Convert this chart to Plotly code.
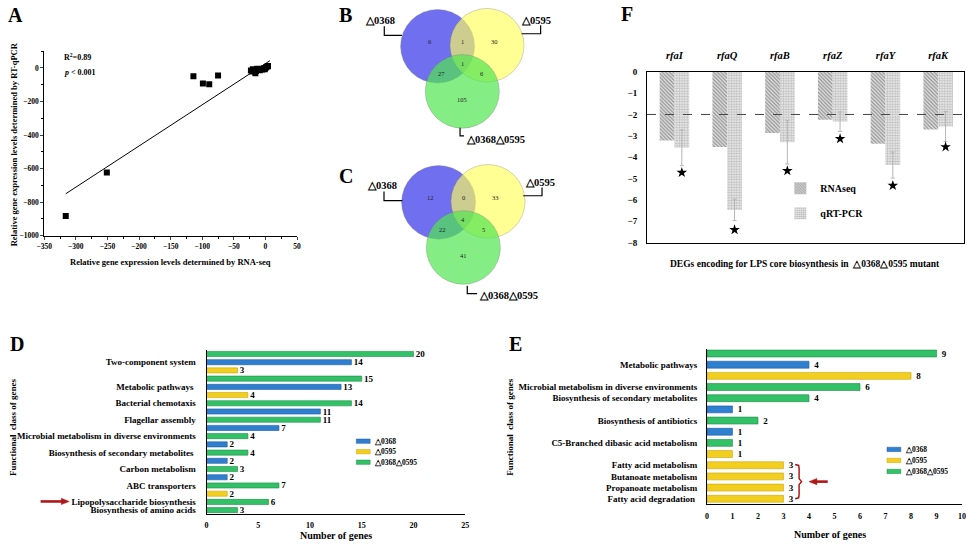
import plotly.graph_objects as go

W, H = 971, 547
FONT = "Liberation Serif"


def px(x):
    return x / W


def py(y):
    return 1 - y / H


# ---------------- DATA ----------------
# Panel A: RNA-seq vs RT-qPCR
a_rnaseq = [-316, -251, -114, -99, -89, -75, -23, -21, -20, -18, -16, -15, -13,
            -11, -9, -7, -5, -3, -1, 1, 3, 4]
a_qpcr = [-883, -623, -50, -93, -97, -45, -15, -22, -8, -12, -32, -18, -5,
          -10, -14, -6, -10, -2, -8, 2, 8, 12]
a_fit_x = [-316, 7]
a_fit_y = [-750, 43]
a_r2_text = "R<sup>2</sup>=0.89"
a_p_text = "<i>p</i> &lt; 0.001"

# Panels B, C: Venn counts
# order: only 0368, 0368&0595, only 0595, all three, 0368&double, 0595&double, only double
venn_sets = ["△0368", "△0595", "△0368△0595"]
venn_b = [6, 1, 30, 1, 27, 6, 105]
venn_c = [12, 0, 33, 4, 22, 5, 41]

# Panel F
f_genes = ["rfaI", "rfaQ", "rfaB", "rfaZ", "rfaY", "rfaK"]
f_rnaseq = [-3.22, -3.52, -2.87, -2.25, -3.37, -2.71]
f_qpcr = [-3.56, -6.47, -3.30, -2.34, -4.37, -2.56]
f_qpcr_err = [0.84, 0.50, 1.02, 0.46, 0.61, 0.70]
f_star = [-4.72, -7.40, -4.64, -3.14, -5.33, -3.52]
f_threshold = -2
f_title = "DEGs encoding for LPS core biosynthesis in  △0368△0595 mutant"

S1, S2, S3 = "△0368", "△0595", "△0368△0595"
series_names = [S1, S2, S3]
series_colors = {S1: "#2f7fd0", S2: "#f2cf1f", S3: "#33c168"}
series_lines = {S1: "#1d5a9c", S2: "#c9a50c", S3: "#1f8a47"}

# Panel D
d_labels = ["", "Two-component system", "", "", "Metabolic pathways ", "",
            "Bacterial chemotaxis", "", "Flagellar assembly", "",
            "Microbial metabolism in diverse environments", "",
            "Biosynthesis of secondary metabolites ", "", "Carbon metabolism", "",
            "ABC transporters", "", "Lipopolysaccharide biosynthesis",
            "Biosynthesis of amino acids"]
d_series = [S3, S1, S2, S3, S1, S2, S3, S1, S3, S1, S3, S1, S3, S1, S3, S1, S3, S2, S3, S3]
d_values = [20, 14, 3, 15, 13, 4, 14, 11, 11, 7, 4, 2, 4, 2, 3, 2, 7, 2, 6, 3]

# Panel E
e_labels = ["", "Metabolic pathways", "", "Microbial metabolism in diverse environments",
            "Biosynthesis of secondary metabolites", "", "Biosynthesis of antibiotics", "",
            "C5-Branched dibasic acid metabolism", "", "Fatty acid metabolism",
            "Butanoate metabolism", "Propanoate metabolism", "Fatty acid degradation "]
e_series = [S3, S1, S2, S3, S3, S1, S3, S1, S3, S2, S2, S2, S2, S2]
e_values = [9, 4, 8, 6, 4, 1, 2, 1, 1, 1, 3, 3, 3, 3]

# ---------------- FIGURE ----------------
fig = go.Figure()
shapes = []
annotations = []


def add_text(x, y, text, size, xanchor="center", yanchor="middle", weight="bold",
             angle=0, color="black"):
    annotations.append(dict(x=px(x), y=py(y), xref="paper", yref="paper", text=text,
                            showarrow=False, xanchor=xanchor, yanchor=yanchor,
                            textangle=angle,
                            font=dict(family=FONT, size=size, weight=weight, color=color)))


def add_path(points, color="black", width=1, closed=False, fill=None):
    d = "M " + " L ".join(f"{px(x):.5f},{py(y):.5f}" for x, y in points)
    if closed:
        d += " Z"
    shp = dict(type="path", xref="paper", yref="paper", path=d,
               line=dict(color=color, width=width))
    if fill:
        shp["fillcolor"] = fill
    shapes.append(shp)


def add_arrow(x_tail, x_head, y, color="#b01818"):
    sgn = 1 if x_head > x_tail else -1
    add_path([(x_tail, y), (x_head - sgn * 6, y)], color=color, width=2.6)
    add_path([(x_head - sgn * 8, y - 3.2), (x_head, y), (x_head - sgn * 8, y + 3.2)],
             color=color, width=0.5, closed=True, fill=color)


# ---- Panel F (x / y) ----
fx = list(range(len(f_genes)))
BW = 0.28
fig.add_trace(go.Bar(
    x=fx, y=f_rnaseq, width=BW, offset=-BW, name="RNAseq", xaxis="x", yaxis="y",
    legend="legend", legendgroup="rna",
    marker=dict(color="white", line=dict(width=0),
                pattern=dict(shape="\\", fgcolor="#3f3f3f", bgcolor="#e6e6e6",
                             size=2.6, solidity=0.5))))
fig.add_trace(go.Bar(
    x=fx, y=f_qpcr, width=BW, offset=0, name="qRT-PCR", xaxis="x", yaxis="y",
    legend="legend", legendgroup="qpcr",
    marker=dict(color="white", line=dict(width=0),
                pattern=dict(shape=".", fgcolor="#8a8a8a", bgcolor="#f2f2f2",
                             size=2.6, solidity=0.55)),
    error_y=dict(type="data", array=f_qpcr_err, color="#b5b5b5", thickness=1, width=2)))
fig.add_trace(go.Scatter(
    x=[i + BW / 2 for i in fx], y=f_star, mode="markers", xaxis="x", yaxis="y",
    showlegend=False, marker=dict(symbol="star", size=8, color="black")))
shapes.append(dict(type="line", xref="x domain", yref="y", x0=0, x1=1,
                   y0=f_threshold, y1=f_threshold,
                   line=dict(color="#444444", width=1, dash="dash")))

# ---- Panel A (x2 / y2) ----
fig.add_trace(go.Scatter(x=a_fit_x, y=a_fit_y, mode="lines", xaxis="x2", yaxis="y2",
                         showlegend=False, line=dict(color="black", width=1)))
fig.add_trace(go.Scatter(x=a_rnaseq, y=a_qpcr, mode="markers", xaxis="x2", yaxis="y2",
                         showlegend=False,
                         marker=dict(symbol="square", size=6, color="black")))


# ---- Panels D (x3/y3) and E (x4/y4) ----
def add_hbars(values, series, xa, ya):
    for s in series_names:
        rows = [i + 1 for i, ss in enumerate(series) if ss == s]
        vals = [values[i - 1] for i in rows]
        fig.add_trace(go.Bar(
            x=vals, y=rows, orientation="h", width=0.62, name=s, xaxis=xa, yaxis=ya,
            showlegend=False, text=vals, texttemplate=" %{text}", textposition="outside",
            cliponaxis=False, constraintext="none",
            textfont=dict(family=FONT, size=9, weight="bold", color="black"),
            marker=dict(color=series_colors[s], line=dict(color=series_lines[s], width=0.6))))


add_hbars(d_values, d_series, "x3", "y3")
add_hbars(e_values, e_series, "x4", "y4")


def draw_key(x_sw, y_first, step):
    for k, s in enumerate(series_names):
        y = y_first + k * step
        shapes.append(dict(type="rect", xref="paper", yref="paper",
                           x0=px(x_sw), x1=px(x_sw + 14), y0=py(y + 2.2), y1=py(y - 2.2),
                           fillcolor=series_colors[s],
                           line=dict(color=series_lines[s], width=0.5)))
        add_text(x_sw + 16, y, s, 7.5, xanchor="left")


draw_key(352.7, 444.3, 10.7)
draw_key(890, 452.7, 11.2)

# ---- Venn diagrams (B, C) ----
venn_fill = ["rgba(75,75,235,0.80)", "rgba(255,255,90,0.65)", "rgba(80,230,80,0.70)"]
venn_rel_centers = [(-25, -23), (25, -24), (0, 23)]
venn_r = 37.5
venn_count_pos = [(-33, -28), (0, -28), (33, -28), (0, -5), (-21, 5), (20, 5), (0, 31)]


def draw_venn(cx, cy, counts, lab_a, br_a, lab_b, br_b, lab_c, br_c):
    for (dx, dy), fill in zip(venn_rel_centers, venn_fill):
        x, y = cx + dx, cy + dy
        shapes.append(dict(type="circle", xref="paper", yref="paper",
                           x0=px(x - venn_r), x1=px(x + venn_r),
                           y0=py(y + venn_r), y1=py(y - venn_r),
                           fillcolor=fill, line=dict(color="rgba(120,120,120,0.55)", width=0.6)))
    for (dx, dy), n in zip(venn_count_pos, counts):
        add_text(cx + dx, cy + dy, str(n), 6.5, weight="normal", color="#222222")
    add_text(lab_a[0], lab_a[1], venn_sets[0], 10.5)
    add_text(lab_b[0], lab_b[1], venn_sets[1], 10.5)
    add_text(lab_c[0], lab_c[1], venn_sets[2], 10.5, xanchor="left")
    for br in (br_a, br_b, br_c):
        add_path(br, width=1.2)


draw_venn(460, 65, venn_b,
          (376.7, 15.7), [(381, 21.7), (381, 31), (399, 31)],
          (535, 15.7), [(539.3, 20.7), (539.3, 29.3), (520, 29.3)],
          (461.7, 136.7), [(457.7, 125), (457.7, 133.3), (461.7, 133.3)])
draw_venn(461, 224, venn_c,
          (378.3, 184.3), [(380.7, 190), (380.7, 199.3), (399.3, 199.3)],
          (538.3, 180.7), [(540.7, 186), (540.7, 194.3), (521.7, 194.3)],
          (475, 295.7), [(465, 286), (465, 294), (475, 294)])

# ---- Text annotations ----
for letter, x, y in [("A", 8, 10), ("B", 342, 10), ("C", 342, 174), ("D", 9, 345),
                     ("E", 514, 345), ("F", 627, 9)]:
    add_text(x, y, letter, 20)

# A
add_text(55, 53, a_r2_text, 8, xanchor="left")
add_text(55, 69, a_p_text, 8, xanchor="left")
add_text(165, 262, "Relative gene expression levels determined by RNA-seq", 8.5)
add_text(6, 142, "Relative gene expression levels determined by RT-qPCR", 8.5, angle=-90)

# F
add_text(807, 264, f_title, 9.5)

# D
add_text(332, 540, "Number of genes", 10)
add_text(5, 430, "Functional  class of genes", 9, angle=-90)
add_arrow(33, 62, 505.7)

# E
add_text(832, 539, "Number of genes", 10)
add_text(508, 430, "Functional  class of genes", 9, angle=-90)
add_path([(797, 468), (800.5, 469), (801, 472), (801, 482.5), (803.5, 485.5),
          (801, 488.5), (801, 499), (800.5, 502), (797, 503)], color="#b01818", width=1.5)
add_arrow(830, 811, 485.5)

# ---------------- LAYOUT ----------------
tickfont = dict(family=FONT, size=8, weight="bold", color="black")
axis_common = dict(showgrid=False, zeroline=False, showline=True, linecolor="black",
                   linewidth=1, tickfont=tickfont, fixedrange=True)

fig.update_layout(
    width=W, height=H, margin=dict(l=0, r=0, t=0, b=0),
    paper_bgcolor="white", plot_bgcolor="white",
    font=dict(family=FONT, size=9, weight="bold", color="black"),
    barmode="overlay",
    shapes=shapes, annotations=annotations,
    # F
    xaxis=dict(axis_common, domain=[px(647), px(968)], range=[-0.52, 5.49], side="top",
               tickvals=fx, ticktext=[f"<i>{g}</i>" for g in f_genes], mirror=True,
               ticks="", anchor="y", ticklabelstandoff=8,
               tickfont=dict(family=FONT, size=10.5, weight="bold", color="black")),
    yaxis=dict(axis_common, domain=[py(242), py(68)], range=[-8, 0], dtick=1, mirror=True,
               ticks="", anchor="x", ticklabelstandoff=7,
               tickfont=dict(family=FONT, size=9, weight="bold", color="black")),
    # A
    xaxis2=dict(axis_common, domain=[px(36.7), px(292.7)], range=[-350, 50], dtick=50,
                ticks="outside", ticklen=3, anchor="y2",
                tickfont=dict(family=FONT, size=7.5, weight="bold", color="black"),
                minor=dict(ticks="outside", ticklen=2, dtick=25, tickcolor="black")),
    yaxis2=dict(axis_common, domain=[py(235), py(47)], range=[-1000, 100], dtick=200,
                ticks="outside", ticklen=3, anchor="x2",
                tickfont=dict(family=FONT, size=7.5, weight="bold", color="black"),
                minor=dict(ticks="outside", ticklen=2, dtick=100, tickcolor="black")),
    # D
    xaxis3=dict(axis_common, domain=[px(201), px(463)], range=[0, 25], dtick=5, ticks="",
                anchor="y3", ticklabelstandoff=4),
    yaxis3=dict(axis_common, domain=[py(518.3), py(351.7)], range=[20.45, 0.55],
                tickvals=[i + 1 for i, l in enumerate(d_labels) if l],
                ticktext=[l for l in d_labels if l], ticks="", anchor="x3",
                ticklabelstandoff=8,
                tickfont=dict(family=FONT, size=9, weight="bold", color="black")),
    # E
    xaxis4=dict(axis_common, domain=[px(707.7), px(966)], range=[0, 10], dtick=1, ticks="",
                anchor="y4", ticklabelstandoff=4),
    yaxis4=dict(axis_common, domain=[py(508.3), py(350)], range=[14.47, 0.56],
                tickvals=[i + 1 for i, l in enumerate(e_labels) if l],
                ticktext=[l for l in e_labels if l], ticks="", anchor="x4",
                ticklabelstandoff=7,
                tickfont=dict(family=FONT, size=9, weight="bold", color="black")),
    legend=dict(x=px(782), y=py(172), xanchor="left", yanchor="top",
                bgcolor="rgba(0,0,0,0)", tracegroupgap=6,
                font=dict(family=FONT, size=10, weight="bold", color="black")),
)

fig.write_html("out.html",
               config={"displayModeBar": False},
               post_script="document.body.style.margin='0px';"
                           "document.body.style.overflow='hidden';")
